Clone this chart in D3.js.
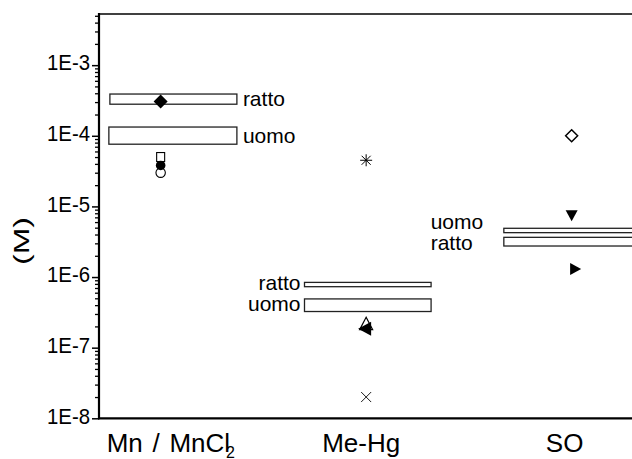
<!DOCTYPE html>
<html><head><meta charset="utf-8">
<script src="https://cdn.jsdelivr.net/npm/d3@7"></script>
<style>
html,body{margin:0;padding:0;background:#fff;}
text{font-family:"Liberation Sans",Arial,sans-serif;fill:#000;}
</style></head>
<body><svg id="chart" width="632" height="459"></svg>
<script>
// ---- data ----
const categories = ["Mn / MnCl", "Me-Hg", "SO"];
const yTickValues = [1e-8, 1e-7, 1e-6, 1e-5, 1e-4, 1e-3];
const yTickLabels = ["1E-8", "1E-7", "1E-6", "1E-5", "1E-4", "1E-3"];
const yLabel = "(M)";

// reference ranges (boxes)
const boxCategory = [0, 0, 1, 1, 2, 2];
const boxLabel    = ["ratto", "uomo", "ratto", "uomo", "uomo", "ratto"];
const boxLow      = [2.8e-4, 7.6e-5, 7.3e-7, 3.25e-7, 4.25e-6, 2.75e-6];
const boxHigh     = [3.9e-4, 1.33e-4, 8.4e-7, 4.9e-7, 4.9e-6, 3.65e-6];
const boxStart    = [-0.247, -0.252, -0.30, -0.30, -0.33, -0.33];
const boxEnd      = [0.371, 0.371, 0.316, 0.316, 0.40, 0.40];

// individual points
const pointCategory = [0, 0, 0, 0, 1, 1, 1, 1, 2, 2, 2];
const pointValue    = [3.05e-4, 3.0e-5, 5.0e-5, 3.8e-5, 4.5e-5, 2.15e-7, 1.85e-7, 2.0e-8, 1.0e-4, 7.5e-6, 1.3e-6];
const pointShape    = ["diamondFilled", "circleOpen", "squareOpen", "circleFilled", "asterisk", "triUpOpen", "triLeftFilled", "cross", "diamondOpen", "triDownFilled", "triRightFilled"];

// ---- layout ----
const svg = d3.select("#chart");
const mLeft = 99, mRight = 633.3, mTop = 14, mBottom = 418.3;

const x = d3.scaleLinear().domain([0.7, 3.3]).range([mLeft, mRight]);
const y = d3.scaleLog().domain([1e-8, 5.3e-3]).range([mBottom, mTop]);
const font = '"Liberation Sans",Arial,sans-serif';

// minor ticks
const minor = [];
for (let e = -8; e <= -3; e++) for (let m = 2; m <= 9; m++) { const v = m * Math.pow(10, e); if (v <= 5.3e-3) minor.push(v); }

const gy = svg.append("g").attr("transform", `translate(${mLeft},0)`);
gy.append("g").call(d3.axisLeft(y).tickValues(minor).tickSize(4).tickFormat(""))
  .call(g => g.select(".domain").remove())
  .call(g => g.selectAll("line").attr("stroke", "#000").attr("stroke-width", 1.3));
gy.append("g").call(d3.axisLeft(y).tickValues(yTickValues).tickSize(7).tickPadding(2)
    .tickFormat((d, i) => yTickLabels[i]))
  .call(g => g.select(".domain").remove())
  .call(g => g.selectAll("line").attr("stroke", "#000").attr("stroke-width", 1.5))
  .call(g => g.selectAll("text").attr("font-size", 22).attr("font-family", font)
       .attr("textLength", 43).attr("lengthAdjust", "spacingAndGlyphs")
       .attr("dy", "0.22em").attr("fill", "#000"));

// frame lines
svg.append("line").attr("x1", mLeft).attr("x2", mLeft).attr("y1", mTop - 1).attr("y2", mBottom + 1)
  .attr("stroke", "#000").attr("stroke-width", 2.2);
svg.append("line").attr("x1", mLeft - 1).attr("x2", 634).attr("y1", mBottom).attr("y2", mBottom)
  .attr("stroke", "#000").attr("stroke-width", 2.2);
svg.append("line").attr("x1", mLeft - 1).attr("x2", 634).attr("y1", mTop).attr("y2", mTop)
  .attr("stroke", "#000").attr("stroke-width", 1.6);

// y axis label
svg.append("text").attr("transform", "translate(29,241) rotate(-90)")
  .attr("text-anchor", "middle").attr("font-size", 22)
  .attr("textLength", 48).attr("lengthAdjust", "spacingAndGlyphs").text(yLabel);

// category labels
const catOffset = [-54, -5, -7];
categories.forEach((c, i) => {
  const t = svg.append("text").attr("x", x(i + 1) + catOffset[i]).attr("y", 452)
    .attr("font-size", 26).attr("text-anchor", "start");
  if (i === 0) {
    t.attr("word-spacing", 2.5).text(c);
    t.append("tspan").attr("font-size", 16).attr("dx", -4).attr("dy", 6).text("2");
  } else {
    t.attr("text-anchor", "middle").text(c);
  }
});

// boxes
boxLow.forEach((lo, i) => {
  const c = boxCategory[i] + 1;
  const x0 = x(c + boxStart[i]), x1 = x(c + boxEnd[i]);
  const y0 = y(boxHigh[i]), y1 = y(lo);
  svg.append("rect").attr("x", x0).attr("y", y0).attr("width", x1 - x0).attr("height", y1 - y0)
    .attr("fill", "#fff").attr("stroke", "#222").attr("stroke-width", 1.3);
  const ym = (y0 + y1) / 2;
  let lx, anchor, ly = ym;
  if (boxCategory[i] === 0) { lx = x1 + 6; anchor = "start"; }
  else if (boxCategory[i] === 1) { lx = x0 - 4; anchor = "end"; ly = ym - 1.5; }
  else { lx = x(3) - 141; anchor = "start"; ly = boxLabel[i] === "uomo" ? ym - 9 : ym + 0.5; }
  svg.append("text").attr("x", lx).attr("y", ly).attr("dy", "0.35em").attr("font-size", 21)
    .attr("text-anchor", anchor).text(boxLabel[i]);
});

// markers
function marker(g, shape, cx, cy) {
  const s = g.append("g").attr("transform", `translate(${cx},${cy})`);
  switch (shape) {
    case "diamondFilled":
      s.append("path").attr("d", "M0,-7L7,0L0,7L-7,0Z").attr("fill", "#000"); break;
    case "diamondOpen":
      s.append("path").attr("d", "M0,-6L6,0L0,6L-6,0Z").attr("fill", "#fff").attr("stroke", "#000").attr("stroke-width", 1.5); break;
    case "circleOpen":
      s.append("circle").attr("r", 4.7).attr("fill", "#fff").attr("stroke", "#000").attr("stroke-width", 1.1); break;
    case "circleFilled":
      s.append("circle").attr("r", 4.8).attr("fill", "#000"); break;
    case "squareOpen":
      s.append("rect").attr("x", -4).attr("y", -4.5).attr("width", 8).attr("height", 9).attr("fill", "#fff").attr("stroke", "#000").attr("stroke-width", 1.1); break;
    case "asterisk":
      s.append("path").attr("d", "M-6,0H6M0,-6V6M-4.5,-4.5L4.5,4.5M-4.5,4.5L4.5,-4.5").attr("stroke", "#000").attr("stroke-width", 1); break;
    case "cross":
      s.append("path").attr("d", "M-5,-5L5,5M-5,5L5,-5").attr("stroke", "#000").attr("stroke-width", 0.9); break;
    case "triUpOpen":
      s.append("path").attr("d", "M0,-7L6.5,5.5L-6.5,5.5Z").attr("fill", "#fff").attr("stroke", "#000").attr("stroke-width", 1.2); break;
    case "triLeftFilled":
      s.append("path").attr("d", "M-8,0L5,-7L5,7Z").attr("fill", "#000"); break;
    case "triDownFilled":
      s.append("path").attr("d", "M-6,-5L6,-5L0,6Z").attr("fill", "#000"); break;
    case "triRightFilled":
      s.append("path").attr("d", "M-4.5,-6L6.5,0L-4.5,6Z").attr("fill", "#000"); break;
  }
}
const gm = svg.append("g");
pointValue.forEach((v, i) => {
  let cx = x(pointCategory[i] + 1);
  if (pointShape[i] === "triRightFilled") cx += 3;
  marker(gm, pointShape[i], cx, y(v));
});
</script></body></html>
